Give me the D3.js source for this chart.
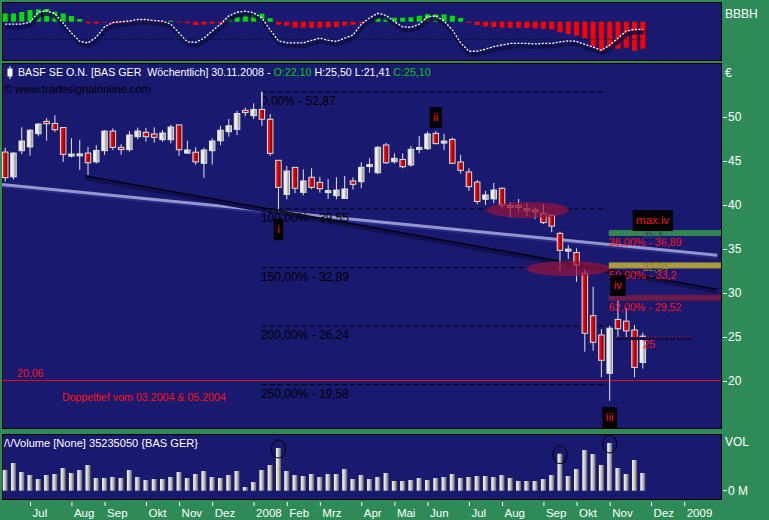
<!DOCTYPE html>
<html><head><meta charset="utf-8">
<script src="https://cdn.jsdelivr.net/npm/d3@7/dist/d3.min.js"></script>
<style>
html,body{margin:0;padding:0;background:#2e8b57;}
svg{display:block;font-family:"Liberation Sans",Arial,sans-serif;}
</style></head><body>
<svg id="c" width="769" height="520"></svg>
<script>
// ---------- DATA ----------
const open = [46.02,43.2,46.17,46.6,48.1,49.5,49.27,48.8,45.65,45.68, 45.9,44.9,46.17,48.4,46.55,46.3,47.76,48.26,48.07,47.42, 47.42,49.1,45.9,46.0,44.74,46.17,47.3,48.33,48.6,50.75, 50.15,50.86,49.74,45.08,41.2,44.28,41.44,43.15,42.57,41.5, 41.06,40.75,42.73,42.65,44.47,43.67,46.82,44.92,45.18,44.55, 46.4,46.4,48.14,47.1,47.46,44.89,43.75,42.6,40.65,40.7, 41.9,39.85,39.95,39.55,39.36,39.05,38.83,36.78,34.85,34.6, 32.24,27.42,25.23,20.88,27.0,26.8,25.8,22.10];
const high = [46.5,46.0,48.83,48.6,49.3,49.85,50.2,48.8,47.6,47.4, 46.6,46.8,48.5,48.7,46.9,48.4,48.8,48.78,48.83,48.5, 49.12,49.1,47.3,46.55,46.5,47.58,49.0,49.77,50.7,51.06, 51.56,52.87,50.34,45.1,44.43,44.3,44.05,44.17,43.2,42.95, 43.15,43.3,43.15,44.85,45.3,46.74,47.05,45.87,45.87,46.7, 47.84,48.33,48.4,48.07,47.65,45.7,44.17,42.84,41.6,42.5, 42.0,40.3,40.68,40.26,39.73,40.1,38.95,36.97,35.45,35.08, 32.69,30.7,25.9,26.3,29.5,28.26,26.36,25.50];
const low = [42.65,42.9,45.8,45.6,47.8,47.3,48.3,44.9,45.4,44.0, 43.4,44.7,45.7,46.25,45.7,46.05,47.46,47.2,47.08,47.2, 47.0,45.6,45.8,44.57,43.1,44.6,46.8,47.76,47.95,50.1, 49.77,49.0,45.57,39.55,40.63,41.33,41.1,41.8,41.4,40.7, 40.65,40.75,41.77,41.9,43.67,43.5,44.66,44.7,44.17,44.35, 45.87,46.25,46.9,46.25,44.66,43.56,41.6,40.1,40.0,40.2, 39.6,38.6,39.25,38.75,38.4,37.84,36.9,32.53,33.86,31.28, 23.33,23.44,20.42,17.76,25.03,24.85,20.42,21.41];
const close = [43.1,45.9,47.27,48.5,49.2,49.24,48.56,45.76,45.7,45.72, 44.8,46.2,48.4,46.55,46.3,47.95,48.4,47.76,47.69,48.18, 48.86,46.28,46.25,44.9,46.25,47.27,48.5,49.0,50.4,50.5, 50.86,49.75,45.87,42.0,43.86,41.9,42.73,42.0,41.85,41.55, 41.7,41.82,42.35,44.28,44.5,46.55,44.8,45.3,44.35,46.33, 46.45,48.07,46.97,47.2,44.74,43.94,42.08,40.4,41.14,41.7, 40.0,39.8,39.73,39.4,39.3,38.0,37.6,34.85,34.9,33.18, 25.42,24.4,22.35,26.0,25.94,25.7,21.55,25.10];
// weekly volume, millions
const volume = [41.2,55.1,37.2,31.2,23.3,31.2,33.2,45.2,35.2,41.2, 51.1,25.3,25.3,27.3,25.3,41.2,27.3,21.3,23.3,23.3, 27.3,37.2,25.3,33.2,39.2,27.3,25.3,31.2,39.2,7.4, 17.3,41.2,51.1,85.0,39.2,31.2,29.3,33.2,27.3,33.2, 33.2,43.2,23.3,31.2,23.3,27.3,35.2,19.3,19.3,21.3, 25.3,21.3,25.3,27.3,33.2,25.3,27.3,29.3,29.3,27.3, 31.2,25.3,19.3,19.3,19.3,23.3,31.2,73.6,29.3,43.2, 81.0,73.0,51.1,94.9,45.2,33.2,61.1,35.23505];
// top indicator: histogram and oscillator
const hist = [8.3,8.3,9.7,11.7,12.3,12.7,10,8.3,5.7,2.7, -1.5,-2,-0.7,-1.5,-1.2,-1.5,-1,-0.7,-1,-1.5, 1,-0.8,-1.5,-3.3,-3,-2,-1.5,3,5,7, 8,8,3.5,-3,-4,-6,-6,-6,-6,-5.7, -5.3,-4,-3,-1.5,0.5,4,5,4,4,4.5, 6,7.5,7.3,7.3,6,3.7,-1,-3.3,-4.7,-5.3, -6,-6,-6,-6.3,-6.7,-7,-7.7,-10.7,-12.3,-14, -16.7,-25,-30,-27,-27,-26,-29,-27];
const osc = [65,65,65,69,88,91,85,67,48,32, 29,40,60,68,70,71,74,74,72,71, 65,48,31,30,38,52,65,81,88,90, 87,77,54,33,29,29,29,34,38,34, 32,38,44,65,77,86,82,70,60,59, 65,79,81,71,54,29,13,13,17,22, 25,28,28,28,27,28,28,31,33,32, 26,21,15,25,38,52,55,55];
const oscRef = 36;
// axis ticks
const monthLabels = ["Jul","Aug","Sep","Okt","Nov","Dez","2008","Feb","Mrz","Apr","Mai","Jun","Jul","Aug","Sep","Okt","Nov","Dez","2009"];
const monthIdx = [3,8,12,17,21,25,30,34,38,43,47,51,56,60,65,69,73,78,82];
const priceTicks = [20,25,30,35,40,45,50];
// fibonacci extension
const fibLabels = ["0,00%","100,00%","150,00%","200,00%","250,00%"];
const fibLevels = [52.87,39.55,32.89,26.24,19.58];
const fibRange = [31,72.65];
// target zones
const zoneLabels = ["38,00% - 36,89","50,00% - 33,2","62,00% - 29,52"];
const zoneLevels = [36.89,33.2,29.52];
const zoneNotes = ["35,3","32,04",""];
const zoneStart = 72.9;
// trend lines [index, price]
const trendUpper = [[-0.4,42.33],[86,34.3]];
const trendLower = [[9.65,43.3],[86,30.42]];
// support
const supportLevel = 20.06;
const supportNote = "Doppeltief vom 03.2004 & 05.2004";
const targetLevel = 25;
const targetRange = [73.8,83];
// ellipses
const ellIdx = [63.1,68.0], ellPrice = [39.43,32.78], ellSpanIdx = [5.0,5.07], ellSpanPrice = [0.91,0.85];
// wave count
const waveLabels = ["i","ii","iii","iv","max.iv"];
const waveIdx = [33,52,73,74,78.2];
const wavePrice = [38.4,51.14,17.05,32.05,39.43];
// volume highlights
const volMarks = [33,67,73];

// ---------- DRAW ----------
const svg = d3.select("#c");
const defs = svg.append("defs");
function grad(id, stops){
  const g = defs.append("linearGradient").attr("id",id).attr("x1","0").attr("x2","1").attr("y1","0").attr("y2","0");
  stops.forEach(([o,c])=>g.append("stop").attr("offset",o).attr("stop-color",c));
}
grad("gW", [[0,"#ffffff"],[0.45,"#e6e6e6"],[1,"#787878"]]);
grad("gR", [[0,"#ff2a2a"],[0.5,"#d00000"],[1,"#6a0000"]]);
grad("gV", [[0,"#ffffff"],[0.5,"#c4c4c4"],[1,"#5e5e5e"]]);
function clip(id,x,y,w,h){defs.append("clipPath").attr("id",id).append("rect").attr("x",x).attr("y",y).attr("width",w).attr("height",h);}
clip("cTop",2,2,719,58); clip("cMain",2,63,719,365); clip("cVol",2,434,719,65);
function fit(sel, target){
  const w = sel.node().getComputedTextLength();
  const fs = parseFloat(sel.attr("font-size"));
  sel.attr("font-size", (fs*target/w).toFixed(2));
}

const NAVY = "#191970";
svg.append("rect").attr("width",769).attr("height",520).attr("fill","#2e8b57");
[[2,2,719,58],[2,63,719,365],[2,434,719,65]].forEach(([px,py,pw,ph])=>{
  svg.append("rect").attr("x",px+0.5).attr("y",py+0.5).attr("width",pw).attr("height",ph).attr("fill",NAVY).attr("stroke","#000").attr("stroke-width",1);
});

const N = close.length;
const idx = d3.range(N);
const x = d3.scaleLinear().domain([0,82]).range([5.2,684.2]);
const y = d3.scaleLinear().domain([20,50]).range([381,117]);
const yVol = d3.scaleLinear().domain([0,100]).range([490.7,440.45]);
const yHist = d3.scaleLinear().domain([-30,0]).range([51.7,21.7]);
const yOsc = d3.scaleLinear().domain([0,100]).range([58,6]);
const fmt = v => String(v).replace(".",",");

// ----- top panel -----
const gTop = svg.append("g").attr("clip-path","url(#cTop)");
gTop.selectAll("rect.h").data(idx).join("rect")
  .attr("x",i=>x(i)-2.5).attr("width",5)
  .attr("y",i=>Math.min(yHist(hist[i]),yHist(0)))
  .attr("height",i=>Math.abs(yHist(hist[i])-yHist(0)))
  .attr("fill",i=>hist[i]>=0?"#00e000":"#ff0000");
gTop.append("line").attr("x1",x(0)).attr("x2",x(N-1)).attr("y1",yOsc(oscRef)).attr("y2",yOsc(oscRef))
  .attr("stroke","#000").attr("stroke-dasharray","1,2");
const oscLine = d3.line().x(i=>x(i)).y(i=>yOsc(osc[i]));
gTop.append("path").attr("d",oscLine(idx)).attr("transform","translate(1,3)")
  .attr("fill","none").attr("stroke","#0c0c40").attr("stroke-width",4).attr("opacity",0.8);
gTop.append("path").attr("d",oscLine(idx)).attr("fill","none").attr("stroke","#ffffff")
  .attr("stroke-width",1.3).attr("stroke-dasharray","2,1.5");
svg.append("text").attr("x",725).attr("y",18).attr("fill","#fff").attr("font-size",12).text("BBBH");

// ----- main panel -----
const gM = svg.append("g").attr("clip-path","url(#cMain)");
const tl = d3.line().x(d=>x(d[0])).y(d=>y(d[1]));
gM.append("path").attr("d",tl(trendUpper)).attr("transform","translate(0,2)").attr("stroke","#2a2a86").attr("stroke-width",3).attr("fill","none");
gM.append("path").attr("d",tl(trendUpper)).attr("stroke","#9696cf").attr("stroke-width",3).attr("fill","none");
gM.append("path").attr("d",tl(trendLower)).attr("transform","translate(0,2.5)").attr("stroke","#101050").attr("stroke-width",3.5).attr("fill","none");
gM.append("path").attr("d",tl(trendLower)).attr("stroke","#000").attr("stroke-width",1.3).attr("fill","none");
// support line
gM.append("line").attr("x1",2).attr("x2",721).attr("y1",y(supportLevel)).attr("y2",y(supportLevel)).attr("stroke","#e01010").attr("stroke-width",1);
fit(gM.append("text").attr("x",17).attr("y",y(supportLevel)-3).attr("fill","#ff1010").attr("font-size",11).text(fmt(supportLevel)), 26.5);
fit(gM.append("text").attr("x",62).attr("y",y(supportLevel)+21).attr("fill","#ff1010").attr("font-size",11).text(supportNote), 164);
// fibonacci
fibLevels.forEach((lv,k)=>{
  gM.append("line").attr("x1",x(fibRange[0])).attr("x2",x(fibRange[1])).attr("y1",y(lv)).attr("y2",y(lv))
    .attr("stroke","#000").attr("stroke-dasharray","5,3");
  gM.append("text").attr("x",x(fibRange[0])-1).attr("y",y(lv)+13).attr("fill","#000").attr("font-size",12)
    .text(fibLabels[k]+" - "+fmt(lv));
});
gM.append("line").attr("x1",x(fibRange[0])).attr("x2",x(fibRange[0])).attr("y1",y(fibLevels[0])).attr("y2",y(fibLevels[0])+14).attr("stroke","#ddd");
// candles
const cg = gM.append("g");
cg.selectAll("line.w").data(idx).join("line")
  .attr("x1",i=>x(i)).attr("x2",i=>x(i)).attr("y1",i=>y(high[i])).attr("y2",i=>y(low[i]))
  .attr("stroke","#e4e4e4").attr("stroke-width",1);
cg.selectAll("rect.b").data(idx).join("rect")
  .attr("x",i=>x(i)-2.75).attr("width",5.5)
  .attr("y",i=>{const t=y(Math.max(open[i],close[i])), b=y(Math.min(open[i],close[i])); return (b-t)<2?(t+b)/2-1:t;})
  .attr("height",i=>Math.max(2,Math.abs(y(open[i])-y(close[i]))))
  .attr("fill",i=>close[i]>=open[i]?"url(#gW)":"url(#gR)")
  .attr("stroke","#e0e0e0").attr("stroke-width",1);
// ellipses
ellIdx.forEach((ci,k)=>{
  const cx=x(ci), cy=y(ellPrice[k]);
  gM.append("ellipse").attr("cx",cx).attr("cy",cy)
    .attr("rx",x(ci+ellSpanIdx[k])-cx).attr("ry",y(ellPrice[k]-ellSpanPrice[k])-cy)
    .attr("fill","#96143c").attr("opacity",0.72);
});
// zones
const zoneFill = ["#2f8450","#a89a3c","#6a1a48"];
const zoneDot = ["#4aa46a","#c8b850","#8a3a68"];
zoneLevels.forEach((lv,k)=>{
  gM.append("rect").attr("x",x(zoneStart)).attr("y",y(lv)-2.4).attr("width",721-x(zoneStart)).attr("height",6).attr("fill",zoneFill[k]);
  gM.append("line").attr("x1",x(zoneStart)).attr("x2",721).attr("y1",y(lv)+0.6).attr("y2",y(lv)+0.6).attr("stroke",zoneDot[k]).attr("stroke-dasharray","1,3");
  if(zoneNotes[k]) gM.append("text").attr("x",643).attr("y",y(lv)+6).attr("fill",k===0?"#3c3c6c":"#8a8030").attr("font-size",10).text(zoneNotes[k]);
  fit(gM.append("text").attr("x",x(zoneStart)).attr("y",y(lv)+14).attr("fill","#ff1010").attr("font-size",11).text(zoneLabels[k]), zoneLabels[k].length*5.2);
});
// target line 25
gM.append("rect").attr("x",x(targetRange[0])).attr("y",y(targetLevel)).attr("width",x(targetRange[1])-x(targetRange[0])).attr("height",3).attr("fill","#10104a");
gM.append("line").attr("x1",x(targetRange[0])).attr("x2",x(targetRange[1])).attr("y1",y(targetLevel)).attr("y2",y(targetLevel))
  .attr("stroke","#ff2020").attr("stroke-dasharray","1,2.5");
gM.append("text").attr("x",643).attr("y",y(targetLevel)+11).attr("fill","#ff1010").attr("font-size",11).text(fmt(targetLevel));
// wave labels
waveLabels.forEach((t,k)=>{
  const g = gM.append("g");
  const tx = g.append("text").attr("x",x(waveIdx[k])).attr("y",y(wavePrice[k])+14).attr("text-anchor","middle")
    .attr("fill","#ff1010").attr("font-size",11.5).text(t);
  const w = tx.node().getComputedTextLength()+7;
  g.insert("rect","text").attr("x",x(waveIdx[k])-w/2).attr("y",y(wavePrice[k])).attr("width",w).attr("height",21).attr("fill","#000");
});
// header
const hd = svg.append("text").attr("x",18).attr("y",76).attr("font-size",11).attr("fill","#fff").style("white-space","pre");
hd.append("tspan").text("BASF SE O.N. [BAS GER  Wöchentlich] 30.11.2008 - ");
hd.append("tspan").attr("fill","#00d000").text("O:"+fmt(open[N-1].toFixed(2)));
hd.append("tspan").text(" H:"+fmt(high[N-1].toFixed(2))+" L:"+fmt(low[N-1].toFixed(2))+" ");
hd.append("tspan").attr("fill","#00d000").text("C:"+fmt(close[N-1].toFixed(2)));
fit(hd, 413);
svg.append("line").attr("x1",10).attr("x2",10).attr("y1",66).attr("y2",79).attr("stroke","#fff");
svg.append("rect").attr("x",7.5).attr("y",68.5).attr("width",5).attr("height",8).attr("fill","#fff");
fit(svg.append("text").attr("x",4).attr("y",93).attr("font-size",11).attr("fill","#000").text("© www.tradesignalonline.com"), 147);

// price axis
const ya = svg.append("g").attr("transform","translate(723,0)").call(d3.axisRight(y).tickValues(priceTicks).tickSize(4).tickPadding(1));
ya.select(".domain").remove();
ya.selectAll("line").attr("stroke","#fff");
ya.selectAll("text").attr("fill","#fff").attr("font-size",12).attr("font-family","Liberation Sans, Arial");
svg.append("text").attr("x",725).attr("y",77).attr("fill","#fff").attr("font-size",12).text("€");

// ----- volume -----
const gV = svg.append("g").attr("clip-path","url(#cVol)");
gV.selectAll("rect.v").data(idx).join("rect")
  .attr("x",i=>x(i)-2.5).attr("width",5)
  .attr("y",i=>yVol(volume[i])).attr("height",i=>yVol(0)-yVol(volume[i]))
  .attr("fill","url(#gV)");
volMarks.forEach(i=>{
  gV.append("ellipse").attr("cx",x(i)).attr("cy",yVol(volume[i])+1).attr("rx",7).attr("ry",9)
    .attr("fill","none").attr("stroke","#000").attr("stroke-width",1);
});
fit(svg.append("text").attr("x",4).attr("y",447).attr("font-size",11).attr("fill","#fff")
  .text("/\\/Volume [None] "+Math.round(volume[N-1]*1e6)+" {BAS GER}"), 194);
svg.append("text").attr("x",725).attr("y",446).attr("font-size",12).attr("fill","#fff").text("VOL");
svg.append("line").attr("x1",723).attr("x2",727).attr("y1",yVol(0)).attr("y2",yVol(0)).attr("stroke","#fff");
svg.append("text").attr("x",728).attr("y",yVol(0)+4).attr("font-size",12).attr("fill","#fff").text("0 M");

// x axis
const xa = svg.append("g").attr("transform","translate(0,502)")
  .call(d3.axisBottom(x).tickValues(monthIdx).tickFormat((d,k)=>monthLabels[k]).tickSize(4));
xa.select(".domain").remove();
xa.selectAll("line").attr("stroke","#fff");
xa.selectAll("text").attr("fill","#fff").attr("font-size",11.5).attr("font-family","Liberation Sans, Arial")
  .attr("text-anchor","start").attr("x",2).attr("y",15).attr("dy",0);
</script>
</body></html>
